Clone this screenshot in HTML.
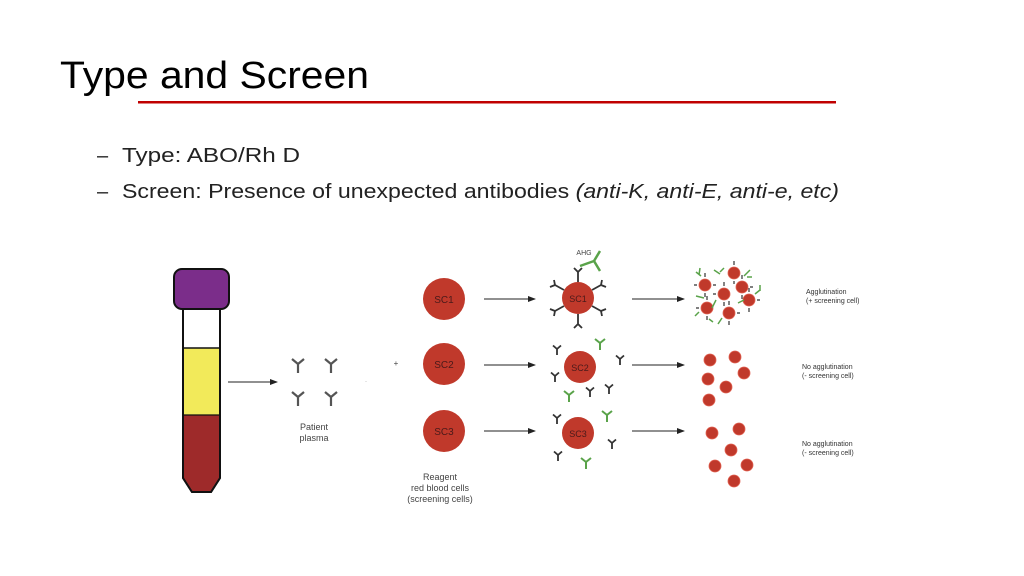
<!DOCTYPE html>
<html><head><meta charset="utf-8"><style>
html,body{margin:0;padding:0;background:#fff;}
svg{display:block;}
text{font-family:"Liberation Sans",sans-serif;}
</style></head><body>
<svg width="1024" height="576" viewBox="0 0 1024 576" xmlns="http://www.w3.org/2000/svg">
<defs>
<g id="y"><path d="M0,0 V9 M0,0 L-6,-5 M0,0 L6,-5" stroke="#555" stroke-width="2.2" fill="none"/></g>
<g id="ys"><path d="M0,0 V6 M0,0 L-4,-3.5 M0,0 L4,-3.5" stroke="#333" stroke-width="1.8" fill="none"/></g>
<g id="yg"><path d="M0,0 V7 M0,0 L-5,-4 M0,0 L5,-4" stroke="#5aa34a" stroke-width="2" fill="none"/></g>
<g id="sc"><circle r="6" fill="#c0392b" stroke="#e06050" stroke-width="0.8"/></g>
<marker id="ah" markerWidth="8" markerHeight="6" refX="7" refY="3" orient="auto" markerUnits="userSpaceOnUse"><path d="M0,0 L8,3 L0,6z" fill="#222"/></marker>
</defs>
<text x="60" y="88" font-size="38" textLength="309" lengthAdjust="spacingAndGlyphs" fill="#000">Type and Screen</text>
<rect x="138" y="101" width="698" height="2.5" fill="#c00000"/>
<text x="97" y="162" font-size="20" fill="#222">–</text>
<text x="122" y="162" font-size="20" textLength="178" lengthAdjust="spacingAndGlyphs" fill="#222">Type: ABO/Rh D</text>
<text x="97" y="198" font-size="20" fill="#222">–</text>
<text x="122" y="198" font-size="20" textLength="717" lengthAdjust="spacingAndGlyphs" fill="#222">Screen: Presence of unexpected antibodies <tspan font-style="italic">(anti-K, anti-E, anti-e, etc)</tspan></text>

<!-- tube -->
<path d="M183,309 V478 L192,492 H211 L220,478 V309 Z" fill="#fff" stroke="#111" stroke-width="2"/>
<rect x="184" y="348" width="35" height="67" fill="#f2ea5a"/>
<path d="M184,415 H219 V478 L210.5,491 H192.5 L184,478 Z" fill="#9e2a2a"/>
<path d="M183,309 V478 L192,492 H211 L220,478 V309" fill="none" stroke="#111" stroke-width="2"/>
<line x1="183" y1="348" x2="220" y2="348" stroke="#111" stroke-width="1.5"/>
<line x1="183" y1="415" x2="220" y2="415" stroke="#111" stroke-width="1.2"/>
<rect x="174" y="269" width="55" height="40" rx="8" fill="#7b2d8a" stroke="#111" stroke-width="2"/>

<line x1="228" y1="382" x2="277" y2="382" stroke="#222" stroke-width="1" marker-end="url(#ah)"/>
<use href="#y" x="298" y="364"/><use href="#y" x="331" y="364"/>
<use href="#y" x="298" y="397"/><use href="#y" x="331" y="397"/>
<text x="314" y="430" font-size="9" fill="#444" text-anchor="middle">Patient</text>
<text x="314" y="441" font-size="9" fill="#444" text-anchor="middle">plasma</text>
<text x="396" y="366" font-size="8" fill="#444" text-anchor="middle">+</text>
<text x="365" y="383" font-size="6" fill="#777">·</text>

<!-- reagent cells -->
<g font-size="10" fill="#4a1a1a" text-anchor="middle">
<circle cx="444" cy="299" r="21" fill="#c0392b"/><text x="444" y="303">SC1</text>
<circle cx="444" cy="364" r="21" fill="#c0392b"/><text x="444" y="368">SC2</text>
<circle cx="444" cy="431" r="21" fill="#c0392b"/><text x="444" y="435">SC3</text>
</g>
<text x="440" y="480" font-size="9" fill="#444" text-anchor="middle">Reagent</text>
<text x="440" y="491" font-size="9" fill="#444" text-anchor="middle">red blood cells</text>
<text x="440" y="502" font-size="9" fill="#444" text-anchor="middle">(screening cells)</text>

<g stroke="#222" stroke-width="1">
<line x1="484" y1="299" x2="535" y2="299" marker-end="url(#ah)"/>
<line x1="484" y1="365" x2="535" y2="365" marker-end="url(#ah)"/>
<line x1="484" y1="431" x2="535" y2="431" marker-end="url(#ah)"/>
<line x1="632" y1="299" x2="684" y2="299" marker-end="url(#ah)"/>
<line x1="632" y1="365" x2="684" y2="365" marker-end="url(#ah)"/>
<line x1="632" y1="431" x2="684" y2="431" marker-end="url(#ah)"/>
</g>

<!-- middle SC1 with bound antibodies -->
<g font-size="9" fill="#4a1a1a" text-anchor="middle">
<circle cx="578" cy="298" r="16" fill="#c0392b"/><text x="578" y="302">SC1</text>
<circle cx="580" cy="367" r="16" fill="#c0392b"/><text x="580" y="371">SC2</text>
<circle cx="578" cy="433" r="16" fill="#c0392b"/><text x="578" y="437">SC3</text>
</g>
<g stroke="#333" stroke-width="1.8" fill="none">
<path d="M578,282 V272 M578,272 l-4,-4 M578,272 l4,-4"/>
<path d="M578,314 V324 M578,324 l-4,4 M578,324 l4,4"/>
<path d="M564,290 l-9,-5 M555,285 l-1,-5 M555,285 l-5,2"/>
<path d="M592,290 l9,-5 M601,285 l1,-5 M601,285 l5,2"/>
<path d="M564,306 l-9,5 M555,311 l-1,5 M555,311 l-5,-2"/>
<path d="M592,306 l9,5 M601,311 l1,5 M601,311 l5,-2"/>
</g>
<text x="584" y="255" font-size="7" fill="#444" text-anchor="middle">AHG</text>
<path d="M580,266 l14,-5 M594,261 l6,-10 M594,261 l6,10" stroke="#5aa34a" stroke-width="2.5" fill="none"/>

<!-- free antibodies row 2 -->
<use href="#ys" x="557" y="349"/><use href="#yg" x="600" y="343"/>
<use href="#ys" x="620" y="359"/><use href="#ys" x="555" y="376"/>
<use href="#yg" x="569" y="395"/><use href="#ys" x="590" y="391"/>
<use href="#ys" x="609" y="388"/>
<!-- row 3 -->
<use href="#ys" x="557" y="418"/><use href="#yg" x="607" y="415"/>
<use href="#ys" x="612" y="443"/><use href="#ys" x="558" y="455"/>
<use href="#yg" x="586" y="462"/>

<!-- agglutination cluster -->
<g>
<use href="#sc" x="734" y="273"/><use href="#sc" x="705" y="285"/><use href="#sc" x="742" y="287"/>
<use href="#sc" x="724" y="294"/><use href="#sc" x="749" y="300"/><use href="#sc" x="707" y="308"/>
<use href="#sc" x="729" y="313"/>
</g>
<g stroke="#333" stroke-width="1.2" fill="none">
<path d="M734,265 v-4 M705,277 v-4 M742,279 v-4 M724,286 v-4 M749,292 v-4 M707,300 v-4 M729,305 v-4 M705,293 v4 M742,295 v4 M724,302 v4 M749,308 v4 M707,316 v4 M729,321 v4 M734,281 v3 M697,285 h-3 M713,285 h3 M750,287 h3 M716,294 h-3 M757,300 h3 M699,308 h-3 M737,313 h3"/>
</g>
<g stroke="#5aa34a" stroke-width="1.5" fill="none">
<path d="M696,272 l5,4 M700,268 l-1,7 M714,270 l6,4 M720,272 l4,-4 M750,270 l-6,6 M752,277 l-5,0 M696,296 l8,2 M716,300 l-4,8 M760,290 l-5,4 M760,285 l0,6 M722,318 l-4,6 M713,322 l-4,-3 M738,303 l6,-3 M695,316 l4,-4"/>
</g>
<text x="806" y="294" font-size="7" fill="#333">Agglutination</text>
<text x="806" y="303" font-size="7" fill="#333">(+ screening cell)</text>

<!-- row 2 scattered -->
<use href="#sc" x="710" y="360"/><use href="#sc" x="735" y="357"/><use href="#sc" x="744" y="373"/>
<use href="#sc" x="708" y="379"/><use href="#sc" x="726" y="387"/><use href="#sc" x="709" y="400"/>
<text x="802" y="369" font-size="7" fill="#333">No agglutination</text>
<text x="802" y="378" font-size="7" fill="#333">(- screening cell)</text>
<!-- row 3 scattered -->
<use href="#sc" x="712" y="433"/><use href="#sc" x="739" y="429"/><use href="#sc" x="731" y="450"/>
<use href="#sc" x="715" y="466"/><use href="#sc" x="747" y="465"/><use href="#sc" x="734" y="481"/>
<text x="802" y="446" font-size="7" fill="#333">No agglutination</text>
<text x="802" y="455" font-size="7" fill="#333">(- screening cell)</text>
</svg>
</body></html>
